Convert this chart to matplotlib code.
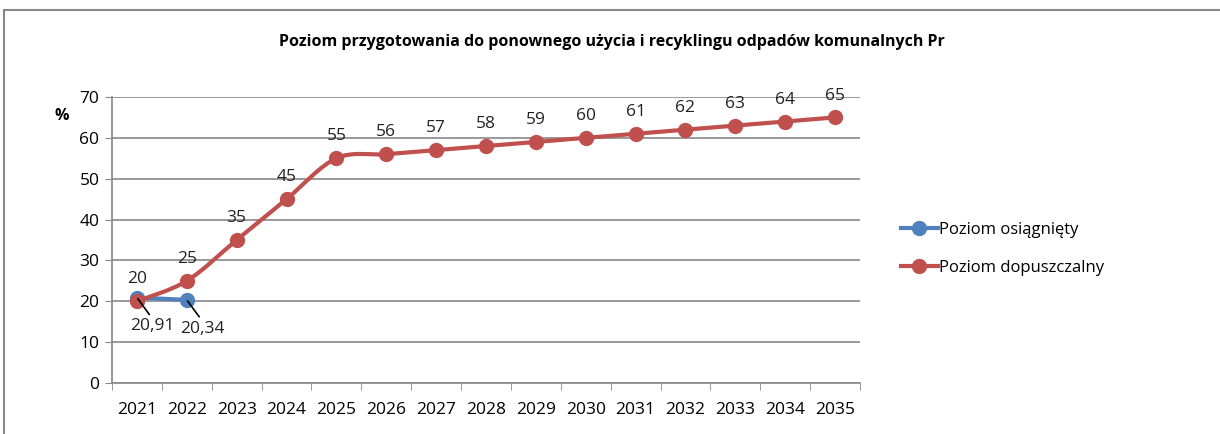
import numpy as np
import matplotlib.pyplot as plt
from matplotlib.path import Path
from matplotlib.patches import PathPatch, Rectangle
from matplotlib.lines import Line2D

years = ["2021", "2022", "2023", "2024", "2025", "2026", "2027", "2028",
         "2029", "2030", "2031", "2032", "2033", "2034", "2035"]
achieved = [20.91, 20.34]
allowed = [20, 25, 35, 45, 55, 56, 57, 58, 59, 60, 61, 62, 63, 64, 65]
achieved_labels = ["20,91", "20,34"]

blue = "#4F81BD"
red = "#C0504D"
plt.rcParams['font.family'] = ['Open Sans', 'DejaVu Sans']


def smooth_path(x, y):
    # krzywa wygładzona jak w Excelu (Catmull-Rom -> Bezier)
    pts = np.column_stack([x, y]).astype(float)
    verts = [pts[0]]
    codes = [Path.MOVETO]
    for i in range(len(pts) - 1):
        p0 = pts[i - 1] if i > 0 else pts[i]
        p1, p2 = pts[i], pts[i + 1]
        p3 = pts[i + 2] if i + 2 < len(pts) else pts[i + 1]
        c1 = p1 + (p2 - p0) / 6
        c2 = p2 - (p3 - p1) / 6
        verts += [c1, c2, p2]
        codes += [Path.CURVE4] * 3
    return Path(verts, codes)


fig = plt.figure(figsize=(12.2, 4.34), dpi=100)
fig.patches.append(Rectangle((4 / 1220, -0.1), 1.1, 1 - 10 / 434 + 0.1,
                             transform=fig.transFigure, fill=False,
                             edgecolor="#888888", lw=1.5))
ax = fig.add_axes([112 / 1220, 1 - 383 / 434, 748 / 1220, 286 / 434])

x = np.arange(len(years))
ax.add_patch(PathPatch(smooth_path(x, allowed), fill=False, edgecolor=red,
                       lw=3, zorder=3))
ax.plot(x, allowed, "o", color=red, markersize=10, zorder=4)
xa = x[:len(achieved)]
ax.plot(xa, achieved, "-o", color=blue, lw=3, markersize=10, zorder=2)

for xi, v in zip(x, allowed):
    ax.annotate(str(v), (xi, v), xytext=(0, 10), textcoords="offset points",
                ha="center", va="bottom", fontsize=12.5, color="#222222")
for xi, v, lab in zip(xa, achieved, achieved_labels):
    ax.annotate(lab, (xi, v), xytext=(11, -15), textcoords="offset points",
                ha="center", va="top", fontsize=12.5, color="#222222",
                zorder=5,
                arrowprops=dict(arrowstyle="-", color="black", lw=1.2,
                                shrinkA=1, shrinkB=1,
                                relpos=(0.5, 1.0)))

ax.set_xlim(-0.5, len(years) - 0.5)
ax.set_ylim(0, 70)
ax.set_yticks(range(0, 71, 10))
ax.set_xticks(x)
ax.set_xticklabels(years)
ax.set_xticks(np.arange(-0.5, len(years)), minor=True)
ax.tick_params(axis="x", which="major", length=0, pad=14, labelsize=12.5)
ax.tick_params(axis="x", which="minor", length=5, color="#888888")
ax.tick_params(axis="y", length=5, color="#888888", labelsize=12.5, pad=4)
ax.grid(axis="y", color="#888888", lw=1.2)
ax.set_axisbelow(True)
for s in ["top", "right"]:
    ax.spines[s].set_visible(False)
for s in ["left", "bottom"]:
    ax.spines[s].set_color("#888888")
    ax.spines[s].set_linewidth(1.2)

fig.text(62 / 1220, 1 - 116 / 434, "%", ha="center", va="center",
         fontsize=11.5, fontweight="bold")
fig.text(612 / 1220, 1 - 42 / 434,
         "Poziom przygotowania do ponownego użycia i recyklingu odpadów komunalnych Pr",
         ha="center", va="center", fontsize=11.5, fontweight="bold")

handles = [Line2D([], [], color=blue, lw=3, marker="o", markersize=10),
           Line2D([], [], color=red, lw=3, marker="o", markersize=10)]
fig.legend(handles, ["Poziom osiągnięty", "Poziom dopuszczalny"],
           loc="center left", bbox_to_anchor=(886 / 1220, 1 - 249 / 434),
           frameon=False, fontsize=12, handlelength=2.2, handletextpad=0.1,
           labelspacing=1.35)

fig.savefig("out.png", dpi=100)
